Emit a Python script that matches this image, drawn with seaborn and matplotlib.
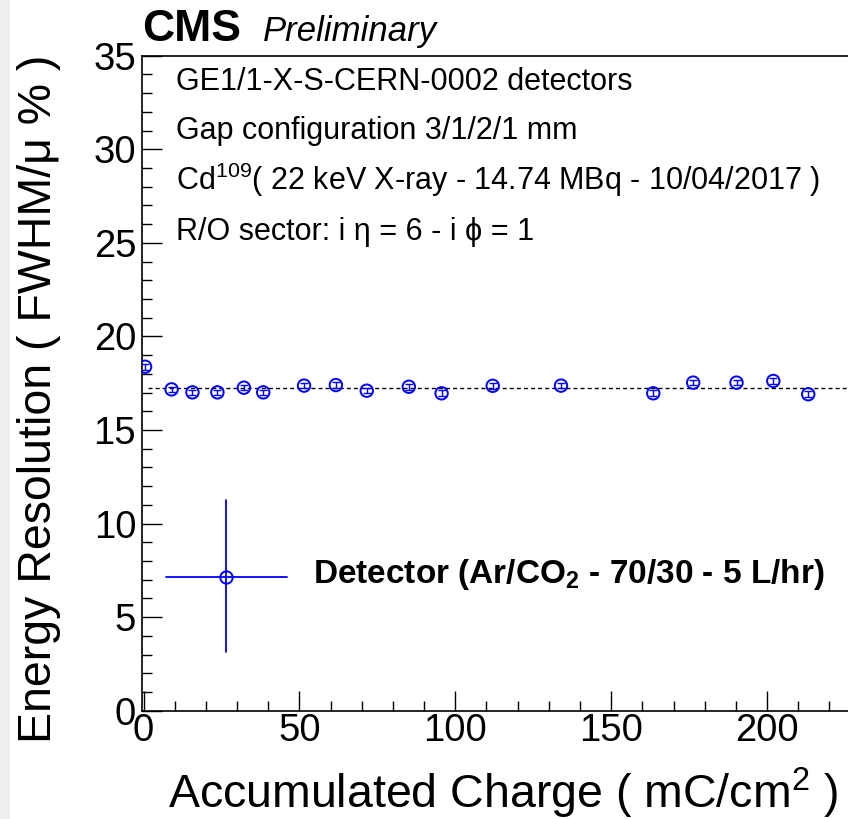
import numpy as np
import pandas as pd
import matplotlib
matplotlib.use('Agg')
import matplotlib.pyplot as plt
import seaborn as sns
from matplotlib.ticker import MultipleLocator
from matplotlib.patches import Rectangle

# ---------------- data ----------------
charge = [0.5, 9.0, 15.7, 23.7, 32.2, 38.4, 51.5, 61.7, 71.6, 85.1, 95.6,
          112.0, 133.9, 163.5, 176.3, 190.2, 202.0, 213.2]
resolution = [18.38, 17.17, 17.01, 17.01, 17.26, 17.01, 17.37, 17.40, 17.10,
              17.31, 16.96, 17.36, 17.37, 16.96, 17.53, 17.53, 17.62, 16.91]
resolution_err = [0.16, 0.15, 0.15, 0.15, 0.15, 0.15, 0.15, 0.15, 0.15,
                  0.15, 0.15, 0.15, 0.15, 0.15, 0.15, 0.15, 0.15, 0.15]
fit_value = 17.27
fit_range = [1.5, 230.0]

xticks = [0, 50, 100, 150, 200]
yticks = [0, 5, 10, 15, 20, 25, 30, 35]

info_lines = [
    'GE1/1-X-S-CERN-0002 detectors',
    'Gap configuration 3/1/2/1 mm',
    'Cd$^{109}$( 22 keV X-ray - 14.74 MBq - 10/04/2017 )',
    'R/O sector: i η = 6 - i ϕ = 1',
]
legend_label = 'Detector (Ar/CO$_\\mathbf{2}$ - 70/30 - 5 L/hr)'
xlabel = 'Accumulated Charge ( mC/cm$^{2}$ )'
ylabel = 'Energy Resolution ( FWHM/μ % )'

df = pd.DataFrame({'charge': charge, 'resolution': resolution})

# ---------------- style ----------------
sns.set_style('ticks')
plt.rcParams['font.family'] = ['Liberation Sans', 'DejaVu Sans']
plt.rcParams['mathtext.fontset'] = 'custom'
plt.rcParams['mathtext.rm'] = 'Liberation Sans'
plt.rcParams['mathtext.it'] = 'Liberation Sans:italic'
plt.rcParams['mathtext.bf'] = 'Liberation Sans:bold'
for k in ['text.color', 'axes.labelcolor', 'xtick.color', 'ytick.color',
          'axes.edgecolor']:
    plt.rcParams[k] = 'black'

W, H = 848, 819
fig = plt.figure(figsize=(W / 100, H / 100), dpi=100)
fig.patch.set_facecolor('white')
fig.patches.append(Rectangle((0, 0), 9 / W, 1, transform=fig.transFigure,
                             color='#eeeeee', zorder=-10))

ax_l, ax_r, ax_t, ax_b = 141.7, 876.2, 55.7, 710.7
ax = fig.add_axes([ax_l / W, 1 - ax_b / H, (ax_r - ax_l) / W, (ax_b - ax_t) / H])
ax.set_facecolor('white')

# fit line
ax.hlines(fit_value, fit_range[0], fit_range[1], colors='black',
          linestyles=(0, (2.9, 2.2)), linewidth=1.0, zorder=2)

# error bars
ax.errorbar(charge, resolution, yerr=resolution_err, fmt='none', ecolor='blue',
            elinewidth=1.0, capsize=3, capthick=1.0, zorder=3)

# markers
sns.scatterplot(data=df, x='charge', y='resolution', marker='o', s=80,
                facecolor='none', edgecolor='blue', linewidth=1.4, ax=ax,
                zorder=4, legend=False)

ax.set_xlim(-0.58, 235)
ax.set_ylim(0, 35)
ax.set_xticks(xticks)
ax.set_yticks(yticks)
ax.xaxis.set_minor_locator(MultipleLocator(10))
ax.yaxis.set_minor_locator(MultipleLocator(1))

for s in ax.spines.values():
    s.set_linewidth(1.2)
    s.set_color('black')

ax.tick_params(which='major', direction='in', length=14.5, width=1.0,
               labelsize=27.5, top=False, right=False, colors='black')
ax.tick_params(which='minor', direction='in', length=7.5, width=1.0,
               top=False, right=False, colors='black')
ax.tick_params(axis='x', which='major', pad=2)
ax.tick_params(axis='y', which='major', pad=4)

ax.set_xlabel(xlabel, fontsize=33.5, color='black')
ax.xaxis.set_label_coords(0.948, -0.1486)
ax.xaxis.label.set_ha('right')
ax.xaxis.label.set_va('baseline')

ax.set_ylabel(ylabel, fontsize=33.5, color='black')
ax.yaxis.set_label_coords(-0.1235, 1.001)
ax.yaxis.label.set_ha('right')
ax.yaxis.label.set_va('baseline')

# info text block
ys = [0.9476, 0.8728, 0.7950, 0.7186]
for txt, yy in zip(info_lines, ys):
    ax.text(0.0467, yy, txt, transform=ax.transAxes, fontsize=22,
            ha='left', va='baseline', color='black')

# legend (drawn manually, ROOT style)
lc = 'blue'
ax.plot([0.0331, 0.1978], [0.2041, 0.2041], transform=ax.transAxes, color=lc,
        lw=1.3, clip_on=False)
ax.plot([0.1148, 0.1148], [0.0896, 0.3217], transform=ax.transAxes, color=lc,
        lw=1.3, clip_on=False)
ax.plot([0.1148], [0.2041], transform=ax.transAxes, marker='o', ms=8.9,
        mfc='none', mec=lc, mew=1.4, clip_on=False)
ax.text(0.2332, 0.195, legend_label, transform=ax.transAxes, fontsize=24,
        weight='bold', ha='left', va='baseline', color='black')

# CMS label
fig.text(142 / W, 1 - 41 / H, 'CMS', fontsize=32, weight='bold',
         ha='left', va='baseline', color='black')
fig.text(263 / W, 1 - 41 / H, 'Preliminary', fontsize=25, style='italic',
         ha='left', va='baseline', color='black')

fig.savefig('out.png', dpi=100)
